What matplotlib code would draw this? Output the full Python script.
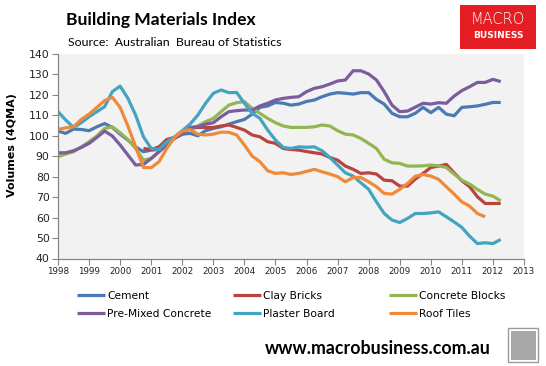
import numpy as np
import matplotlib
matplotlib.use("Agg")
import matplotlib.pyplot as plt
from matplotlib.patches import Rectangle

# Quarterly 4 quarter moving average volumes, 1998 Q1 onward
start_year = 1998.0

cement = [102.3, 101.2, 103.3, 103.1, 102.5, 104.4, 106.0, 104.1,
          100.8, 97.9, 94.6, 92.2, 93.0, 93.3, 97.0, 99.2,
          100.8, 101.2, 100.0, 102.5, 103.6, 104.4, 105.7, 106.9,
          108.0, 110.6, 113.9, 114.6, 116.3, 115.9, 115.0, 115.5,
          116.8, 117.5, 119.1, 120.4, 121.1, 120.8, 120.4, 121.1,
          121.1, 117.8, 115.5, 111.0, 109.3, 109.3, 111.0, 113.9,
          111.3, 113.9, 110.6, 109.8, 113.9, 114.2, 114.6, 115.4,
          116.3, 116.3]

# clay bricks series only starts in 2000 Q4
clay_bricks_start = 2000.75
clay_bricks = [93.8, 93.3, 94.6, 98.2, 99.2,
               101.2, 103.6, 104.1, 104.1, 104.1, 104.8, 105.3, 104.1,
               102.8, 100.4, 99.5, 97.1, 96.3, 93.8, 93.3, 93.0,
               92.3, 91.7, 91.1, 89.4, 88.1, 85.2, 83.6, 81.6,
               81.9, 81.3, 78.3, 78.0, 75.4, 75.4, 78.8, 81.6,
               84.5, 85.2, 86.0, 81.9, 78.0, 75.1, 70.2, 66.9,
               66.9, 66.9]

concrete_blocks = [89.8, 91.1, 92.2, 94.6, 97.1, 99.9, 103.6, 104.4,
                   101.5, 98.2, 93.8, 88.1, 88.9, 92.2, 96.3, 99.2,
                   101.2, 103.6, 104.8, 106.9, 108.5, 111.8, 115.0, 116.2,
                   116.7, 113.4, 111.0, 108.5, 106.4, 104.8, 104.1, 104.1,
                   104.1, 104.4, 105.3, 104.8, 102.5, 100.8, 100.4, 98.7,
                   96.3, 93.8, 88.5, 86.8, 86.5, 85.2, 85.2, 85.3,
                   85.7, 85.3, 84.5, 81.3, 78.3, 76.4, 73.8, 71.5,
                   70.5, 68.2]

pre_mixed = [91.7, 91.7, 92.7, 94.3, 96.3, 99.2, 102.3, 99.9,
             95.5, 90.6, 85.7, 86.0, 88.9, 92.2, 95.5, 98.7,
             100.8, 104.1, 104.4, 105.7, 106.4, 109.3, 111.8, 112.3,
             112.6, 112.6, 114.6, 115.9, 117.5, 118.3, 118.8, 119.1,
             121.6, 123.2, 124.0, 125.3, 126.8, 127.3, 131.8, 131.8,
             130.2, 127.3, 121.6, 115.0, 111.8, 112.1, 114.0, 115.9,
             115.5, 116.2, 115.9, 119.4, 122.1, 124.0, 126.1, 126.1,
             127.6, 126.5]

plaster_board = [111.8, 107.7, 104.1, 106.4, 109.3, 111.8, 114.2, 121.6,
                 124.3, 118.3, 110.1, 99.5, 93.8, 93.3, 97.1, 99.5,
                 102.5, 105.7, 110.1, 115.9, 120.8, 122.4, 121.1, 121.2,
                 115.9, 111.0, 108.5, 102.8, 97.9, 94.3, 93.8, 94.6,
                 94.4, 94.6, 92.7, 89.4, 85.7, 81.9, 80.3, 77.0,
                 73.8, 67.7, 62.0, 58.8, 57.6, 59.6, 62.0, 62.0,
                 62.3, 62.8, 60.4, 57.9, 55.2, 50.9, 47.3, 47.7,
                 47.3, 49.3]

roof_tiles = [103.1, 103.9, 104.4, 108.0, 110.6, 113.9, 117.2, 118.8,
              113.9, 104.8, 94.6, 84.5, 84.4, 87.3, 93.8, 99.2,
              102.2, 103.1, 100.8, 100.4, 100.8, 101.8, 101.7, 100.4,
              95.5, 90.1, 87.3, 82.9, 81.6, 81.9, 81.1, 81.6,
              82.6, 83.6, 82.4, 81.3, 80.0, 77.5, 79.6, 79.6,
              77.5, 75.1, 71.8, 71.5, 73.8, 76.7, 80.2, 81.1,
              80.3, 78.7, 75.1, 71.5, 67.7, 65.6, 62.0, 60.4]

year_ticks = list(range(1998, 2014))
value_ticks = list(range(40, 141, 10))


def quarters(first, values):
    # x position for each quarterly value
    return first + 0.25 * np.arange(len(values))


series = [
    ("Cement", start_year, cement, "#4A7AB5"),
    ("Clay Bricks", clay_bricks_start, clay_bricks, "#B8443F"),
    ("Concrete Blocks", start_year, concrete_blocks, "#93B552"),
    ("Pre-Mixed Concrete", start_year, pre_mixed, "#7B5C9E"),
    ("Plaster Board", start_year, plaster_board, "#43A4C0"),
    ("Roof Tiles", start_year, roof_tiles, "#EE8A3A"),
]

W, H = 546, 366
fig = plt.figure(figsize=(W / 100, H / 100), dpi=100)
fig.patch.set_facecolor("white")

ax = fig.add_axes([58 / W, 1 - 258.5 / H, (524 - 58) / W, (258.5 - 54) / H])
ax.set_facecolor("#F2F2F2")

lines = {}
for name, first, vals, col in series:
    ln, = ax.plot(quarters(first, vals), vals, color=col, lw=2.3,
                  solid_joinstyle="round", solid_capstyle="butt", label=name)
    lines[name] = ln

ax.set_xlim(1998, 2013)
ax.set_ylim(40, 140)
ax.set_xticks(year_ticks)
ax.set_yticks(value_ticks)
ax.tick_params(axis="x", direction="out", length=4, width=0.8, color="#868686",
               labelsize=6.3, pad=2, labelcolor="#222222")
ax.tick_params(axis="y", direction="out", length=4, width=0.8, color="#868686",
               labelsize=7.8, pad=2, labelcolor="#222222")
for s in ["top", "right"]:
    ax.spines[s].set_visible(False)
for s in ["left", "bottom"]:
    ax.spines[s].set_color("#868686")
    ax.spines[s].set_linewidth(0.9)

fig.text(12 / W, 1 - 145 / H, "Volumes (4QMA)", rotation=90, fontsize=8,
         fontweight="bold", ha="center", va="center")

# titles
fig.text(66 / W, 1 - 20 / H, "Building Materials Index", fontsize=12.6,
         fontweight="bold", family="Lato", ha="left", va="center")
fig.text(68 / W, 1 - 42 / H, "Source:  Australian  Bureau of Statistics",
         fontsize=8.9, family="Lato", ha="left", va="center")

# MacroBusiness logo box
fig.patches.append(Rectangle((460 / W, 1 - 49 / H), 76 / W, 44 / H,
                             transform=fig.transFigure, facecolor="#E41E22",
                             edgecolor="none"))
fig.text(498 / W, 1 - 20 / H, "MACRO", color="white", fontsize=10.5,
         family="DejaVu Sans", fontweight="light", ha="center", va="center")
fig.text(498 / W, 1 - 36 / H, "BUSINESS", color="white", fontsize=6.5,
         fontweight="bold", ha="center", va="center")

# legend, one block per column
columns = [["Cement", "Pre-Mixed Concrete"],
           ["Clay Bricks", "Plaster Board"],
           ["Concrete Blocks", "Roof Tiles"]]
col_x = [77, 233, 389]
for names, x in zip(columns, col_x):
    leg = fig.legend([lines[n] for n in names], names, loc="upper left",
                     bbox_to_anchor=(x / W, 1 - 291 / H), frameon=False,
                     borderpad=0, borderaxespad=0, handlelength=2.6,
                     handletextpad=0.2, labelspacing=0.75,
                     prop={"size": 7.7})
    for h in leg.legend_handles:
        h.set_linewidth(2.3)

fig.text(377.5 / W, 1 - 348 / H, "www.macrobusiness.com.au", fontsize=12.8,
         fontweight="bold", family="Lato", ha="center", va="center")

# small picture box bottom right
fig.patches.append(Rectangle((508 / W, 1 - 362 / H), 30 / W, 34 / H,
                             transform=fig.transFigure, facecolor="white",
                             edgecolor="#9A9A9A", lw=1))
fig.patches.append(Rectangle((510.5 / W, 1 - 359.5 / H), 25 / W, 29 / H,
                             transform=fig.transFigure, facecolor="#A8A8A8",
                             edgecolor="none"))

fig.savefig("out.png", dpi=100)
